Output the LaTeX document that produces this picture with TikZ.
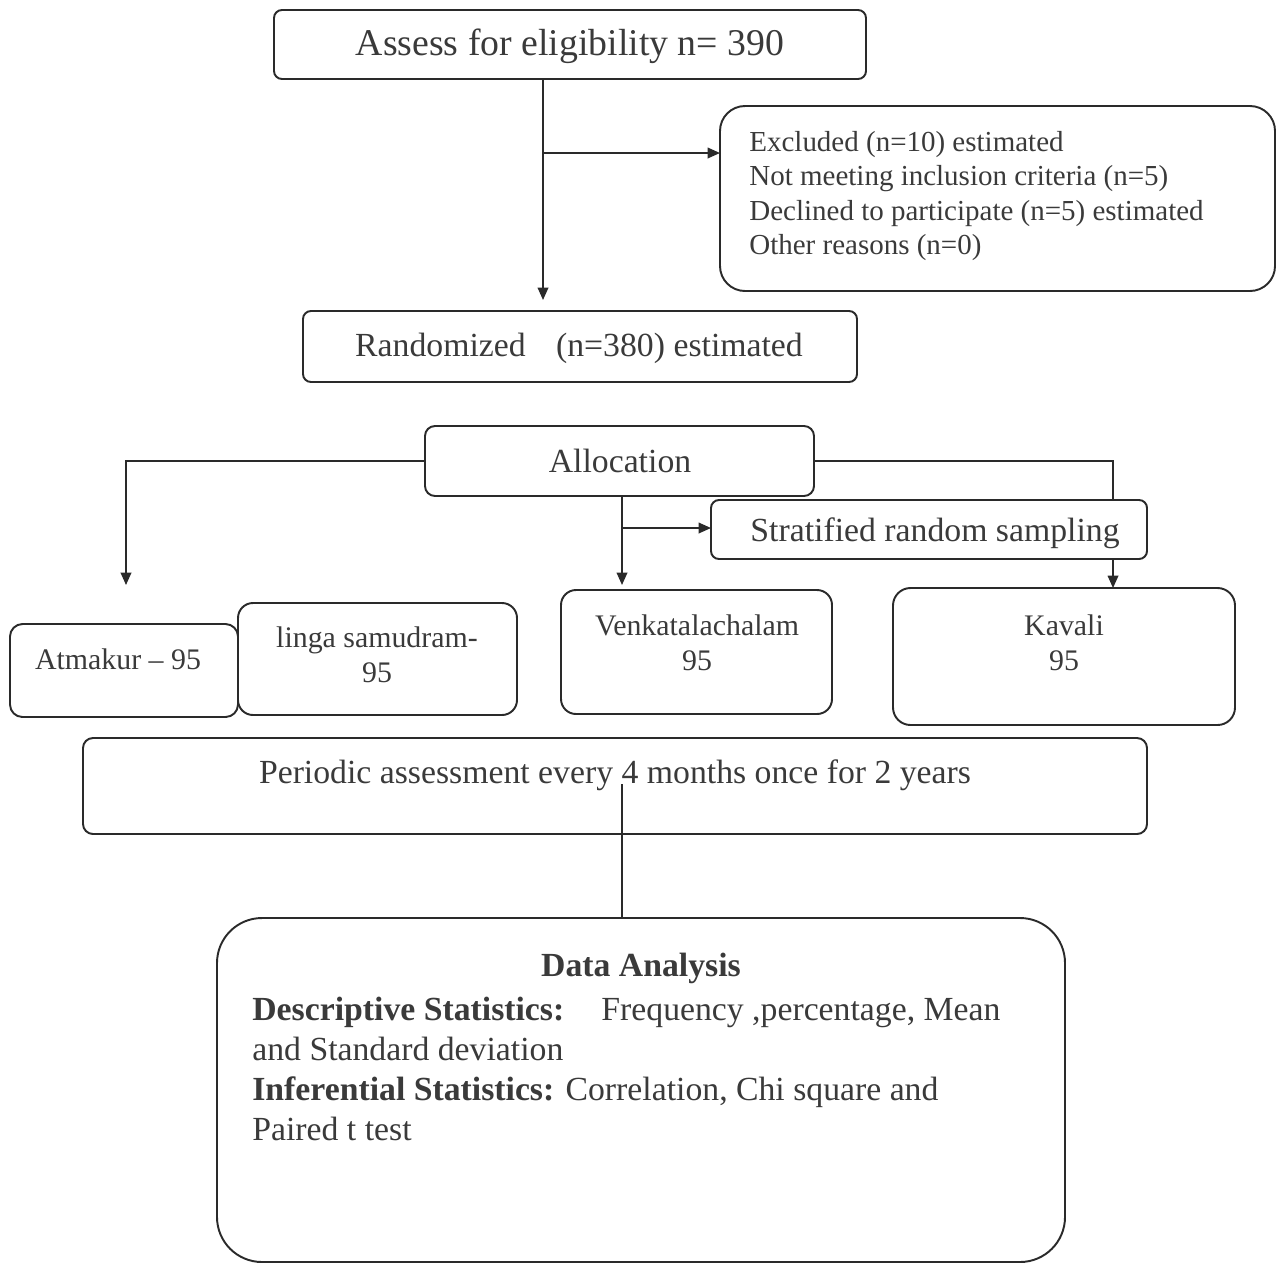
\documentclass[tikz,border=0pt]{standalone}
\usepackage{fontspec}
\setmainfont{Liberation Serif}
\usetikzlibrary{arrows.meta,fit}
\definecolor{ink}{HTML}{3A3A3A}
\definecolor{edge}{HTML}{2A2A2A}
\begin{document}
\begin{tikzpicture}[x=0.02cm,y=-0.02cm,
  box/.style={draw=edge, line width=1.1pt, inner sep=0pt, outer sep=0pt, text=ink},
  arr/.style={draw=edge, line width=1pt, -{Triangle[length=7pt,width=6pt]}},
  ln/.style={draw=edge, line width=1pt},
  txt/.style={text=ink, inner sep=0pt},
  fA/.style={font=\fontsize{21.5pt}{25pt}\selectfont},
  fB/.style={font=\fontsize{19.2pt}{23pt}\selectfont},
  fC/.style={font=\fontsize{17pt}{19.8pt}\selectfont},
  fD/.style={font=\fontsize{16.5pt}{19.6pt}\selectfont},
  fE/.style={font=\fontsize{19.2pt}{22.7pt}\selectfont},
  ]
\useasboundingbox (0,0) rectangle (1283,1265);

% boxes
\node[box, rounded corners=0.16cm, fit={(274,10) (866,79)}] (assess) {};
\node[txt, fA] (assesstxt) at (570,46) {Assess for eligibility n= 390};
\node[box, rounded corners=0.5cm, fit={(720,106) (1275,291)}] (excl) {};
\node[txt, fD, align=left, anchor=west] (excltxt) at (749,196)
  {Excluded (n=10) estimated\\Not meeting inclusion criteria (n=5)\\Declined to participate (n=5) estimated\\Other reasons (n=0)};
\node[box, rounded corners=0.16cm, fit={(303,311) (857,382)}] (rand) {};
\node[txt, fB] (randtxt) at (579,348) {Randomized\hspace{0.9em}(n=380) estimated};
\node[box, rounded corners=0.2cm, fit={(425,426) (814,496)}] (alloc) {};
\node[txt, fB] (alloctxt) at (620,461) {Allocation};
\node[box, rounded corners=0.16cm, fit={(711,500) (1147,559)}] (strat) {};
\node[txt, fB] (strattxt) at (935,533) {Stratified random sampling};

\node[box, rounded corners=0.25cm, fit={(10,624) (238,717)}] (atm) {};
\node[txt, fC] (atmtxt) at (118,659) {Atmakur -- 95};
\node[box, rounded corners=0.3cm, fit={(238,603) (517,715)}] (linga) {};
\node[txt, fC, align=center] (lingatxt) at (377,655) {linga samudram-\\95};
\node[box, rounded corners=0.3cm, fit={(561,590) (832,714)}] (ven) {};
\node[txt, fC, align=center] (ventxt) at (697,643) {Venkatalachalam\\95};
\node[box, rounded corners=0.35cm, fit={(893,588) (1235,725)}] (kav) {};
\node[txt, fC, align=center] (kavtxt) at (1064,643) {Kavali\\95};

\node[box, rounded corners=0.2cm, fit={(83,738) (1147,834)}] (per) {};
\node[txt, fB] (pertxt) at (615,775) {Periodic assessment every 4 months once for 2 years};

\node[box, rounded corners=0.9cm, fit={(217,918) (1065,1262)}] (data) {};
\node[txt, fE, font=\fontsize{19.2pt}{22.7pt}\selectfont\bfseries] (datah) at (641,968) {Data Analysis};
\node[txt, fE, align=left, anchor=west] (databody) at (252,1069)
  {\textbf{Descriptive Statistics:}\hspace{1.1em}Frequency ,percentage, Mean\\
   and Standard deviation\\
   \textbf{Inferential Statistics:} Correlation, Chi square and\\
   Paired t test};

% connectors
\coordinate (j1) at (543,153);
\draw[arr, shorten >=0.22cm] (assess.south -| j1) -- (rand.north -| j1);
\draw[arr] (j1) -- (excl.west |- j1);

\draw[arr, shorten >=0.78cm] (alloc.west) -| (atm.north -| 126,0);

\coordinate (kx) at (1113,500);
\draw[ln] (alloc.east) -| (strat.north -| kx);
\draw[arr] (strat.south -| kx) -- (kav.north -| kx);

\coordinate (mx) at (622,528);
\draw[arr, shorten >=0.1cm] (alloc.south -| mx) -- (ven.north -| mx);
\draw[arr] (mx) -- (strat.west |- mx);

\coordinate (px) at (622,784);
\draw[ln] (px) -- (data.north -| px);
\end{tikzpicture}
\end{document}
